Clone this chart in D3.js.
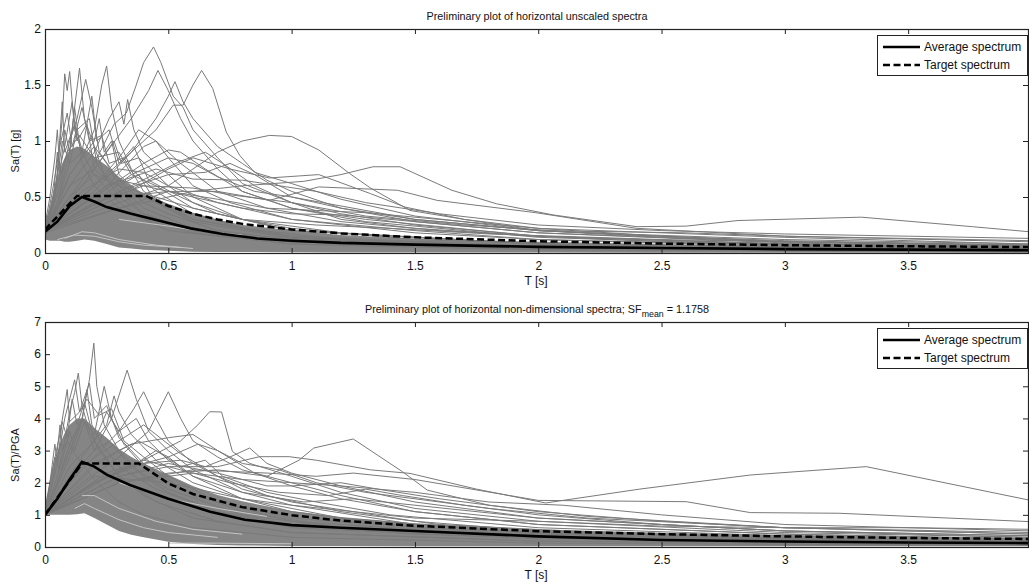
<!DOCTYPE html>
<html>
<head>
<meta charset="utf-8">
<script src="https://cdn.jsdelivr.net/npm/d3@7"></script>
<style>
  body { margin: 0; background: #fff; }
  svg { display: block; font-family: "Liberation Sans", Arial, sans-serif; }
  .tick text { font-size: 12px; fill: #111; }
</style>
</head>
<body>
<svg id="chart" width="1029" height="582"></svg>
<script>
// ---- data ----
const xTicks = [0, 0.5, 1, 1.5, 2, 2.5, 3, 3.5];
const topYTicks = [0, 0.5, 1, 1.5, 2];
const botYTicks = [0, 1, 2, 3, 4, 5, 6, 7];

// grid for the dense grey mass of records
const bandT     = [0, 0.02, 0.04, 0.06, 0.08, 0.1, 0.13, 0.16, 0.2, 0.25, 0.3, 0.35, 0.4, 0.5, 0.6, 0.7, 0.8, 1.0, 1.2, 1.5, 2, 2.5, 3, 3.5, 4];
const topBandLo = [0.12, 0.11, 0.11, 0.11, 0.1, 0.1, 0.11, 0.12, 0.11, 0.08, 0.05, 0.04, 0.03, 0.02, 0.012, 0.01, 0.01, 0.006, 0.005, 0.005, 0.004, 0.003, 0.003, 0.003, 0.003];
const topBandHi = [0.26, 0.42, 0.6, 0.75, 0.85, 0.92, 0.95, 0.93, 0.86, 0.78, 0.68, 0.6, 0.53, 0.44, 0.36, 0.3, 0.25, 0.2, 0.16, 0.13, 0.1, 0.08, 0.065, 0.055, 0.05];
const botBandLo = [1.0, 1.0, 1.0, 1.0, 1.0, 1.0, 1.02, 1.05, 0.9, 0.7, 0.5, 0.38, 0.3, 0.16, 0.09, 0.06, 0.05, 0.03, 0.03, 0.02, 0.02, 0.02, 0.02, 0.02, 0.02];
const botBandHi = [1.3, 2.1, 2.7, 3.2, 3.55, 3.8, 4.0, 4.0, 3.7, 3.4, 3.05, 2.8, 2.6, 2.25, 1.9, 1.62, 1.42, 1.12, 0.93, 0.74, 0.55, 0.44, 0.37, 0.32, 0.28];

// average and target spectra, [T, Sa]
const topAverage = [[0,0.19],[0.05,0.28],[0.1,0.42],[0.15,0.5],[0.2,0.46],[0.25,0.41],[0.35,0.35],[0.48,0.28],[0.59,0.22],[0.72,0.17],[0.86,0.13],[1.0,0.11],[1.2,0.09],[1.5,0.075],[2,0.055],[2.5,0.045],[3,0.035],[3.5,0.03],[4,0.025]];
const topTarget  = [[0,0.21],[0.13,0.51],[0.41,0.51],[0.5,0.42],[0.6,0.35],[0.7,0.3],[0.8,0.26],[1.0,0.21],[1.2,0.175],[1.5,0.14],[2,0.105],[2.5,0.084],[3,0.07],[3.5,0.06],[4,0.053]];
const botAverage = [[0,1.0],[0.05,1.5],[0.1,2.1],[0.15,2.65],[0.2,2.5],[0.25,2.25],[0.344,1.93],[0.5,1.5],[0.67,1.1],[0.81,0.85],[1.0,0.68],[1.2,0.6],[1.5,0.5],[2,0.33],[2.5,0.22],[3,0.17],[3.5,0.14],[4,0.12]];
const botTarget  = [[0,1.0],[0.15,2.6],[0.38,2.6],[0.5,1.98],[0.6,1.65],[0.8,1.24],[1.0,0.99],[1.2,0.82],[1.5,0.66],[2,0.49],[2.5,0.4],[3,0.33],[3.5,0.28],[4,0.25]];

// individual records that stand out of the mass, [T, Sa]
const topSpectra = [
  [[0,0.2],[0.04,0.5],[0.07,1.2],[0.08,1.6],[0.09,1.45],[0.1,1.62],[0.12,1.1],[0.15,0.9],[0.2,0.7],[0.3,0.45],[0.4,0.3],[0.6,0.18],[1,0.08],[2,0.03],[4,0.01]],
  [[0,0.15],[0.05,0.45],[0.1,0.9],[0.12,1.3],[0.14,1.65],[0.16,1.2],[0.2,0.95],[0.25,0.8],[0.3,0.6],[0.4,0.4],[0.6,0.22],[1,0.1],[2,0.04],[4,0.015]],
  [[0,0.18],[0.06,0.6],[0.1,1.0],[0.13,1.2],[0.165,1.55],[0.19,1.3],[0.22,0.9],[0.3,0.65],[0.4,0.45],[0.5,0.35],[0.7,0.2],[1,0.12],[2,0.05],[4,0.02]],
  [[0,0.2],[0.05,0.4],[0.1,0.7],[0.15,0.85],[0.2,1.1],[0.23,1.5],[0.25,1.67],[0.27,1.3],[0.3,1.0],[0.35,0.75],[0.45,0.55],[0.6,0.35],[0.8,0.22],[1.2,0.12],[2,0.05],[4,0.02]],
  [[0,0.22],[0.1,0.6],[0.2,0.9],[0.26,1.2],[0.3,1.35],[0.32,1.15],[0.335,1.37],[0.36,1.1],[0.4,0.9],[0.5,0.7],[0.6,0.5],[0.8,0.3],[1,0.22],[1.5,0.12],[2.5,0.05],[4,0.02]],
  [[0,0.22],[0.1,0.5],[0.2,0.8],[0.28,1.15],[0.33,1.25],[0.37,1.5],[0.4,1.7],[0.44,1.84],[0.47,1.7],[0.52,1.4],[0.56,1.3],[0.6,1.1],[0.7,0.85],[0.8,0.62],[1,0.45],[1.2,0.35],[1.5,0.25],[2,0.15],[3,0.08],[4,0.05]],
  [[0,0.2],[0.15,0.6],[0.25,0.9],[0.35,1.2],[0.42,1.45],[0.458,1.63],[0.5,1.45],[0.55,1.2],[0.6,1.0],[0.7,0.75],[0.8,0.55],[1,0.4],[1.3,0.28],[2,0.14],[3,0.07],[4,0.04]],
  [[0,0.2],[0.2,0.6],[0.35,0.9],[0.45,1.2],[0.5,1.4],[0.527,1.53],[0.56,1.35],[0.6,1.2],[0.7,0.95],[0.8,0.8],[0.9,0.65],[1,0.55],[1.2,0.4],[1.5,0.28],[2,0.18],[3,0.09],[4,0.05]],
  [[0,0.22],[0.2,0.55],[0.35,0.9],[0.45,1.1],[0.52,1.32],[0.56,1.32],[0.6,1.5],[0.635,1.63],[0.68,1.47],[0.735,1.08],[0.79,0.87],[0.85,0.72],[1,0.62],[1.2,0.48],[1.5,0.33],[2,0.2],[3,0.1],[4,0.06]],
  [[0,0.2],[0.3,0.45],[0.5,0.6],[0.6,0.75],[0.7,0.9],[0.8,1.0],[0.91,1.05],[1.0,1.04],[1.11,0.92],[1.235,0.71],[1.32,0.58],[1.48,0.38],[1.7,0.3],[2,0.22],[2.5,0.15],[3,0.11],[4,0.07]],
  [[0,0.2],[0.3,0.4],[0.6,0.55],[0.8,0.6],[1.05,0.64],[1.2,0.7],[1.33,0.77],[1.44,0.77],[1.65,0.56],[1.83,0.44],[2.06,0.34],[2.4,0.235],[2.6,0.24],[2.81,0.29],[3.31,0.32],[3.76,0.235],[3.99,0.19]],
  [[0,0.2],[0.3,0.5],[0.5,0.75],[0.6,0.85],[0.75,0.75],[0.91,0.67],[1.11,0.7],[1.32,0.53],[1.46,0.41],[1.7,0.3],[2,0.2],[3,0.1],[4,0.06]],
  [[0,0.18],[0.3,0.4],[0.5,0.55],[0.7,0.55],[0.91,0.47],[1.11,0.59],[1.43,0.56],[1.59,0.47],[1.99,0.36],[2.4,0.22],[3,0.15],[4,0.1]],
  [[0,0.2],[0.2,0.5],[0.4,0.8],[0.5,0.92],[0.55,0.9],[0.65,0.75],[0.8,0.55],[1,0.4],[1.3,0.3],[2,0.15],[3,0.08],[4,0.05]],
  [[0,0.2],[0.2,0.45],[0.35,0.7],[0.5,0.85],[0.6,0.8],[0.7,0.68],[0.85,0.55],[1,0.5],[1.2,0.42],[1.5,0.3],[2,0.2],[2.5,0.14],[3,0.1],[4,0.07]],
  [[0,0.2],[0.25,0.6],[0.4,0.95],[0.45,1.0],[0.5,0.85],[0.6,0.6],[0.75,0.45],[1,0.3],[1.5,0.18],[2,0.12],[3,0.06],[4,0.04]],
  [[0,0.2],[0.3,0.55],[0.5,0.7],[0.65,0.72],[0.75,0.8],[0.85,0.7],[1,0.5],[1.2,0.4],[1.5,0.3],[2,0.2],[2.6,0.18],[3,0.15],[3.5,0.13],[4,0.11]],
  [[0,0.2],[0.15,0.55],[0.3,0.75],[0.4,0.72],[0.5,0.6],[0.7,0.45],[1,0.3],[1.5,0.2],[2,0.12],[3,0.07],[4,0.04]],
  [[0,0.2],[0.2,0.6],[0.3,0.85],[0.38,1.1],[0.45,1.0],[0.55,0.8],[0.7,0.55],[0.9,0.4],[1.2,0.28],[1.6,0.2],[2,0.15],[3,0.08],[4,0.05]],
  [[0,0.2],[0.25,0.6],[0.45,0.75],[0.6,0.66],[0.8,0.65],[0.95,0.6],[1.1,0.55],[1.3,0.45],[1.6,0.35],[2,0.25],[2.5,0.2],[3,0.17],[3.5,0.15],[4,0.13]],
  [[0,0.2],[0.3,0.5],[0.5,0.55],[0.7,0.48],[0.9,0.4],[1.1,0.38],[1.3,0.36],[1.6,0.3],[2,0.22],[2.5,0.18],[3,0.14],[4,0.08]],
  [[0,0.2],[0.2,0.5],[0.3,0.65],[0.4,0.6],[0.6,0.5],[0.8,0.4],[1,0.35],[1.2,0.34],[1.5,0.28],[2,0.18],[3,0.1],[4,0.06]],
  [[0,0.2],[0.1,0.5],[0.2,0.7],[0.3,0.6],[0.45,0.5],[0.6,0.4],[0.8,0.3],[1.1,0.25],[1.4,0.22],[1.8,0.17],[2.5,0.12],[3,0.1],[4,0.07]],
  [[0,0.2],[0.35,0.6],[0.55,0.82],[0.65,0.9],[0.72,0.8],[0.85,0.6],[1,0.45],[1.3,0.33],[1.7,0.25],[2.2,0.18],[3,0.12],[4,0.08]],
  [[0,0.2],[0.2,0.45],[0.4,0.6],[0.6,0.58],[0.75,0.52],[1,0.45],[1.2,0.3],[1.5,0.22],[2,0.15],[2.5,0.1],[4,0.05]],
  [[0,0.18],[0.03,0.4],[0.05,0.9],[0.06,0.7],[0.08,1.1],[0.1,0.9],[0.12,1.3],[0.15,0.8],[0.2,0.6],[0.3,0.4],[0.5,0.2],[1,0.08],[2,0.03],[4,0.01]],
  [[0,0.15],[0.04,0.5],[0.07,1.0],[0.1,0.8],[0.13,1.1],[0.18,1.2],[0.21,0.8],[0.3,0.5],[0.4,0.35],[0.6,0.2],[1,0.1],[2,0.04],[4,0.015]],
  [[0,0.2],[0.06,0.5],[0.1,0.7],[0.2,1.0],[0.22,1.2],[0.24,0.9],[0.27,1.0],[0.3,0.7],[0.4,0.5],[0.6,0.3],[1,0.14],[2,0.06],[4,0.02]],
  [[0,0.2],[0.05,0.6],[0.09,0.9],[0.14,1.05],[0.2,0.85],[0.3,0.9],[0.35,0.7],[0.45,0.6],[0.6,0.4],[1,0.2],[2,0.08],[4,0.03]],
  [[0,0.25],[0.02,0.5],[0.04,0.85],[0.05,1.1],[0.06,0.75],[0.08,0.95],[0.11,1.35],[0.13,1.0],[0.17,1.15],[0.2,0.75],[0.28,0.6],[0.4,0.35],[0.6,0.2],[1,0.1],[2,0.04],[4,0.015]],
  [[0,0.2],[0.03,0.55],[0.06,0.95],[0.09,1.25],[0.11,0.95],[0.15,1.3],[0.18,1.0],[0.23,1.05],[0.26,0.8],[0.32,0.85],[0.4,0.55],[0.6,0.3],[1,0.15],[2,0.06],[4,0.02]],
  [[0,0.15],[0.02,0.35],[0.05,0.7],[0.07,1.35],[0.08,0.9],[0.12,1.15],[0.16,0.85],[0.2,0.95],[0.24,0.7],[0.3,0.6],[0.38,0.7],[0.45,0.45],[0.6,0.28],[1,0.13],[2,0.05],[4,0.02]],
  [[0,0.2],[0.05,0.45],[0.1,0.8],[0.15,0.9],[0.19,1.4],[0.21,1.0],[0.26,1.1],[0.3,0.8],[0.36,0.95],[0.42,0.65],[0.55,0.5],[0.7,0.35],[1,0.2],[2,0.08],[4,0.03]],
  [[0,0.18],[0.1,0.6],[0.2,0.75],[0.28,1.0],[0.31,0.8],[0.38,0.85],[0.5,0.6],[0.6,0.45],[0.8,0.3],[1.2,0.18],[2,0.08],[4,0.03]]
];

const botSpectra = [
  [[0,1],[0.03,2.0],[0.05,3.0],[0.061,3.8],[0.07,3.0],[0.09,3.3],[0.12,2.9],[0.15,2.6],[0.2,2.1],[0.3,1.4],[0.4,1.0],[0.6,0.6],[1,0.3],[2,0.12],[4,0.05]],
  [[0,1],[0.05,2.2],[0.08,3.3],[0.1,4.2],[0.12,4.8],[0.135,5.41],[0.15,4.4],[0.18,3.6],[0.22,3.0],[0.3,2.2],[0.4,1.6],[0.6,0.9],[1,0.45],[2,0.18],[4,0.07]],
  [[0,1],[0.05,2.0],[0.1,3.2],[0.15,4.0],[0.18,5.2],[0.198,6.34],[0.21,5.0],[0.24,3.8],[0.3,3.0],[0.4,2.2],[0.5,1.7],[0.7,1.1],[1,0.6],[2,0.25],[4,0.1]],
  [[0,1],[0.1,2.2],[0.2,3.0],[0.27,4.0],[0.333,5.5],[0.37,4.6],[0.42,3.6],[0.5,3.0],[0.6,2.4],[0.8,1.7],[1,1.3],[1.5,0.7],[2,0.45],[3,0.25],[4,0.15]],
  [[0,1],[0.1,2.0],[0.2,2.8],[0.3,3.6],[0.36,4.3],[0.4,4.83],[0.45,4.0],[0.5,3.3],[0.6,2.6],[0.8,1.8],[1,1.4],[1.5,0.8],[2,0.5],[3,0.28],[4,0.18]],
  [[0,1],[0.15,2.0],[0.3,2.8],[0.42,3.6],[0.5,4.83],[0.55,4.0],[0.6,3.3],[0.7,2.8],[0.8,2.4],[1,2.0],[1.2,1.6],[1.5,1.1],[2,0.7],[3,0.4],[4,0.25]],
  [[0,1],[0.2,2.0],[0.4,2.7],[0.55,3.3],[0.62,3.8],[0.668,4.21],[0.716,4.2],[0.76,2.97],[0.83,2.6],[1,2.2],[1.2,1.7],[1.5,1.2],[2,0.8],[3,0.45],[4,0.3]],
  [[0,1],[0.2,2.0],[0.4,2.6],[0.55,2.7],[0.65,2.5],[0.75,2.8],[0.83,3.08],[0.9,2.6],[1,2.3],[1.2,1.9],[1.5,1.4],[2,0.9],[3,0.5],[4,0.35]],
  [[0,1],[0.3,2.2],[0.5,2.5],[0.7,2.5],[0.87,2.81],[0.99,2.81],[1.1,2.7],[1.32,2.4],[1.48,2.29],[1.75,1.8],[2.03,1.37],[2.41,1.8],[2.86,2.24],[3.33,2.5],[3.99,1.46]],
  [[0,1],[0.3,2.0],[0.5,2.3],[0.7,2.4],[0.9,2.2],[1.03,2.7],[1.09,3.08],[1.25,3.36],[1.45,2.34],[1.55,1.77],[1.8,1.3],[2.2,0.95],[3,0.6],[4,0.4]],
  [[0,1],[0.3,2.0],[0.6,2.4],[0.9,2.3],[1.1,2.2],[1.25,2.3],[1.5,2.1],[2.0,1.45],[2.6,1.41],[2.86,1.07],[3.22,1.05],[3.99,0.79]],
  [[0,1],[0.15,2.5],[0.3,3.3],[0.4,3.8],[0.45,3.5],[0.55,2.9],[0.7,2.2],[0.9,1.6],[1.2,1.1],[1.6,0.7],[2.5,0.35],[4,0.15]],
  [[0,1],[0.2,2.6],[0.35,3.2],[0.5,3.4],[0.6,3.5],[0.7,3.0],[0.85,2.3],[1,1.9],[1.2,1.5],[1.5,1.1],[2,0.7],[3,0.4],[4,0.25]],
  [[0,1],[0.15,2.8],[0.25,3.8],[0.28,4.7],[0.3,4.2],[0.35,3.5],[0.45,2.7],[0.6,2.0],[0.8,1.5],[1,1.1],[1.5,0.6],[2.5,0.3],[4,0.12]],
  [[0,1],[0.1,3.0],[0.15,4.0],[0.2,3.5],[0.24,5.0],[0.27,4.0],[0.32,3.2],[0.4,2.5],[0.55,1.8],[0.8,1.1],[1.2,0.6],[2,0.3],[4,0.1]],
  [[0,1],[0.3,2.4],[0.5,2.8],[0.62,3.2],[0.7,3.0],[0.8,2.6],[0.95,2.4],[1.1,2.0],[1.3,1.7],[1.5,1.5],[1.8,1.2],[2.2,0.9],[3,0.6],[4,0.4]],
  [[0,1],[0.3,2.2],[0.5,2.6],[0.7,2.3],[0.9,1.9],[1.0,1.9],[1.2,2.0],[1.35,1.8],[1.6,1.5],[2,1.1],[2.5,0.8],[3,0.6],[4,0.45]],
  [[0,1],[0.25,2.3],[0.4,2.7],[0.55,2.4],[0.75,2.0],[0.95,1.7],[1.15,1.6],[1.3,1.8],[1.45,1.6],[1.7,1.3],[2,1.0],[2.5,0.7],[3,0.5],[4,0.35]],
  [[0,1],[0.2,2.0],[0.35,2.5],[0.45,3.0],[0.5,2.8],[0.6,2.2],[0.8,1.7],[1.05,1.4],[1.25,1.5],[1.5,1.3],[2,0.9],[3,0.5],[4,0.3]],
  [[0,1],[0.2,2.5],[0.3,3.0],[0.38,3.3],[0.45,3.0],[0.55,2.5],[0.65,2.7],[0.72,2.2],[0.9,1.7],[1.1,1.4],[1.4,1.0],[2,0.6],[3,0.35],[4,0.2]],
  [[0,1],[0.3,2.0],[0.6,2.3],[0.8,2.1],[1.0,2.0],[1.2,1.9],[1.5,1.7],[1.8,1.4],[2.1,1.3],[2.5,1.0],[3,0.7],[4,0.5]],
  [[0,1],[0.1,2.8],[0.15,3.9],[0.17,4.9],[0.19,3.8],[0.23,3.2],[0.3,2.5],[0.45,1.8],[0.7,1.1],[1,0.7],[1.5,0.4],[2.5,0.2],[4,0.08]],
  [[0,1],[0.2,2.2],[0.5,2.0],[0.8,1.5],[1.0,1.3],[1.5,0.9],[2,0.8],[2.5,0.65],[3,0.6],[3.5,0.6],[4,0.55]],
  [[0,1],[0.02,2.0],[0.04,3.2],[0.05,2.6],[0.07,3.9],[0.09,3.4],[0.11,4.6],[0.13,3.8],[0.16,4.5],[0.2,3.3],[0.3,2.2],[0.45,1.4],[0.7,0.8],[1,0.45],[2,0.18],[4,0.07]],
  [[0,1],[0.03,2.4],[0.06,3.5],[0.09,4.9],[0.1,3.9],[0.14,4.2],[0.18,5.1],[0.2,4.0],[0.25,4.4],[0.3,3.4],[0.4,2.6],[0.6,1.6],[1,0.8],[2,0.3],[4,0.1]],
  [[0,1],[0.05,2.6],[0.08,4.0],[0.12,5.2],[0.14,4.2],[0.17,4.6],[0.22,4.1],[0.27,4.3],[0.32,3.3],[0.4,2.8],[0.5,2.2],[0.7,1.4],[1,0.9],[2,0.35],[4,0.12]],
  [[0,1],[0.1,2.5],[0.2,3.3],[0.25,4.2],[0.3,3.6],[0.37,4.0],[0.42,3.3],[0.5,2.7],[0.6,2.2],[0.8,1.5],[1.2,0.9],[2,0.4],[4,0.15]],
  [[0,1],[0.04,2.8],[0.06,2.4],[0.1,3.6],[0.12,3.0],[0.16,3.9],[0.2,3.0],[0.26,3.3],[0.35,2.5],[0.5,1.8],[0.8,1.0],[1.2,0.6],[2,0.3],[4,0.1]]
];

// pale streaks seen inside the grey mass
const topLight = [
  [[0.08,0.13],[0.15,0.19],[0.2,0.18],[0.3,0.12],[0.45,0.07],[0.6,0.04]],
  [[0.05,0.12],[0.12,0.16],[0.2,0.15],[0.3,0.1],[0.4,0.07],[0.55,0.05]],
  [[0.3,0.3],[0.4,0.27],[0.5,0.24],[0.65,0.19],[0.8,0.16]]
];
const botLight = [
  [[0.12,1.2],[0.16,1.35],[0.2,1.2],[0.3,0.85],[0.4,0.6],[0.5,0.45],[0.7,0.3]],
  [[0.15,1.6],[0.2,1.6],[0.3,1.2],[0.45,0.8],[0.6,0.55],[0.8,0.4]],
  [[0.5,0.12],[0.7,0.12],[1.0,0.1]],
  [[0.3,2.0],[0.4,1.75],[0.5,1.5],[0.7,1.2],[0.9,0.95]]
];

// ---- drawing ----
const svg = d3.select("#chart");
const left = 45, right = 1029;
const x = d3.scaleLinear().domain([0, 3.99]).range([left, right]);

function drawPanel(p) {
  const y = d3.scaleLinear().domain(p.yDomain).range([p.bottom, p.top]);
  const g = svg.append("g");
  const clipId = "clip" + p.id;
  g.append("clipPath").attr("id", clipId)
    .append("rect")
    .attr("x", left).attr("y", p.top)
    .attr("width", right - left).attr("height", p.bottom - p.top);

  const plot = g.append("g").attr("clip-path", "url(#" + clipId + ")");
  const line = d3.line().x(d => x(d[0])).y(d => y(d[1]));

  const band = bandT.map((t, i) => [t, p.bandLo[i], p.bandHi[i]]);
  plot.append("path")
    .datum(band)
    .attr("fill", "#858585")
    .attr("d", d3.area().x(d => x(d[0])).y0(d => y(d[1])).y1(d => y(d[2])));

  plot.selectAll(".rec")
    .data(p.spectra).enter()
    .append("path")
    .attr("class", "rec")
    .attr("fill", "none")
    .attr("stroke", "#7a7a7a")
    .attr("stroke-width", 1)
    .attr("d", line);

  plot.selectAll(".pale")
    .data(p.light).enter()
    .append("path")
    .attr("class", "pale")
    .attr("fill", "none")
    .attr("stroke", "#c4c4c4")
    .attr("stroke-width", 1)
    .attr("d", line);

  plot.append("path")
    .datum(p.target)
    .attr("fill", "none")
    .attr("stroke", "#000")
    .attr("stroke-width", 2.5)
    .attr("stroke-dasharray", "7,3.5")
    .attr("d", line);

  plot.append("path")
    .datum(p.average)
    .attr("fill", "none")
    .attr("stroke", "#000")
    .attr("stroke-width", 2.6)
    .attr("d", line);

  // axes, Matlab style: box with inward ticks on all sides
  g.append("g")
    .attr("transform", `translate(0,${p.bottom})`)
    .call(d3.axisBottom(x).tickValues(xTicks).tickFormat(d => String(d)).tickSizeInner(-5).tickSizeOuter(0).tickPadding(8))
    .call(a => a.select(".domain").remove());
  g.append("g")
    .attr("transform", `translate(0,${p.top})`)
    .call(d3.axisTop(x).tickValues(xTicks).tickFormat("").tickSizeInner(-5).tickSizeOuter(0))
    .call(a => a.select(".domain").remove());
  g.append("g")
    .attr("transform", `translate(${left},0)`)
    .call(d3.axisLeft(y).tickValues(p.yTicks).tickFormat(d => String(d)).tickSizeInner(-5).tickSizeOuter(0).tickPadding(4))
    .call(a => a.select(".domain").remove());
  g.append("g")
    .attr("transform", `translate(${right - 1},0)`)
    .call(d3.axisRight(y).tickValues(p.yTicks).tickFormat("").tickSizeInner(-5).tickSizeOuter(0))
    .call(a => a.select(".domain").remove());
  g.selectAll(".tick line").attr("stroke", "#222");

  g.append("rect")
    .attr("x", left + 0.5).attr("y", p.top + 0.5)
    .attr("width", right - left - 1).attr("height", p.bottom - p.top)
    .attr("fill", "none")
    .attr("stroke", "#222")
    .attr("stroke-width", 1.2);

  // title
  const title = g.append("text")
    .attr("x", (left + right) / 2)
    .attr("y", p.top - 9)
    .attr("text-anchor", "middle")
    .attr("font-size", 10.8)
    .attr("fill", "#111");
  title.append("tspan").text(p.title);
  if (p.sub) {
    title.append("tspan").attr("font-size", 8.8).attr("dy", 4).text(p.sub);
    title.append("tspan").attr("dy", -4).text(p.titleEnd);
  }

  g.append("text")
    .attr("x", (left + right) / 2 - 1)
    .attr("y", p.bottom + 32)
    .attr("text-anchor", "middle")
    .attr("font-size", 12)
    .attr("fill", "#111")
    .text("T [s]");

  g.append("text")
    .attr("transform", `translate(19,${p.yLabelY}) rotate(-90)`)
    .attr("text-anchor", "middle")
    .attr("font-size", 11)
    .attr("fill", "#111")
    .text(p.yLabel);

  // legend
  const lg = g.append("g").attr("transform", `translate(877,${p.top + 6})`);
  lg.append("rect")
    .attr("x", 0.5).attr("y", 0.5)
    .attr("width", 150).attr("height", 40)
    .attr("fill", "#fff")
    .attr("stroke", "#222")
    .attr("stroke-width", 1);
  const entries = [["Average spectrum", null], ["Target spectrum", "7,3.5"]];
  entries.forEach((e, i) => {
    const ly = 12 + i * 18;
    lg.append("line")
      .attr("x1", 6).attr("x2", 43).attr("y1", ly).attr("y2", ly)
      .attr("stroke", "#000").attr("stroke-width", 2.5)
      .attr("stroke-dasharray", e[1]);
    lg.append("text")
      .attr("x", 47).attr("y", ly + 4)
      .attr("font-size", 12)
      .attr("fill", "#111")
      .text(e[0]);
  });
}

drawPanel({
  id: "top", top: 29, bottom: 253, yDomain: [0, 2], yTicks: topYTicks,
  bandLo: topBandLo, bandHi: topBandHi, spectra: topSpectra, light: topLight,
  average: topAverage, target: topTarget,
  title: "Preliminary plot of horizontal unscaled spectra",
  yLabel: "Sa(T) [g]", yLabelY: 151
});
drawPanel({
  id: "bot", top: 322, bottom: 547, yDomain: [0, 7], yTicks: botYTicks,
  bandLo: botBandLo, bandHi: botBandHi, spectra: botSpectra, light: botLight,
  average: botAverage, target: botTarget,
  title: "Preliminary plot of horizontal non-dimensional spectra; SF", sub: "mean", titleEnd: " = 1.1758",
  yLabel: "Sa(T)/PGA", yLabelY: 455
});
</script>
</body>
</html>
